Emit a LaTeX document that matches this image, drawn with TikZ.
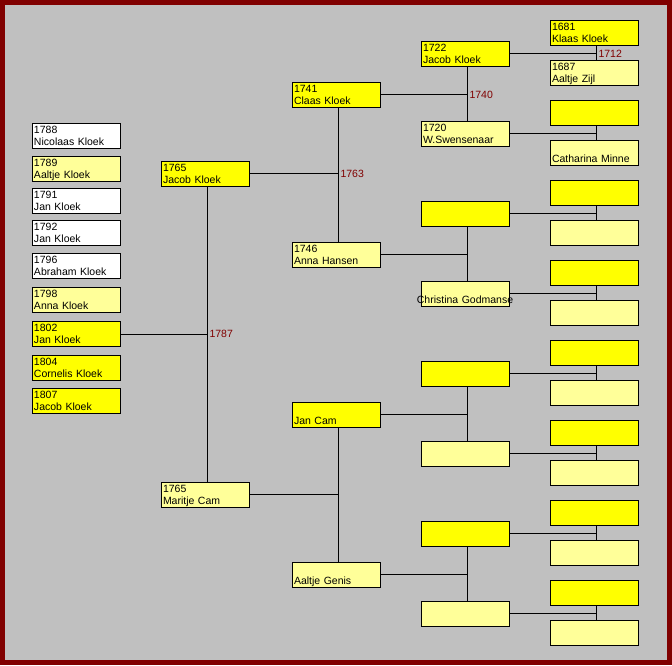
\documentclass[tikz,border=0pt]{standalone}
\usepackage{fontspec}
\setmainfont{Liberation Sans}
\usepackage{tikz}
\usepackage{xcolor}
\definecolor{frame}{RGB}{128,0,0}
\definecolor{panel}{RGB}{192,192,192}
\definecolor{man}{RGB}{255,255,0}
\definecolor{wife}{RGB}{255,255,153}
\newcommand\pp[2]{\rule{0pt}{10pt}#1\\#2\rule[-3pt]{0pt}{3pt}}
\begin{document}
\begin{tikzpicture}[x=1pt,y=-1pt,line width=1pt]%
  \tikzstyle{boxm}=[draw,fill=man,anchor=north west,minimum width=88pt,minimum height=25pt,
    inner xsep=2pt,inner ysep=0pt,text width=84pt,align=left,font=\fontsize{10.5}{12}\selectfont]
  \tikzstyle{boxf}=[boxm,fill=wife]
  \tikzstyle{boxw}=[boxm,fill=white]
  \tikzstyle{yr}=[anchor=west,inner sep=2pt,text=frame,font=\fontsize{10.5}{12}\selectfont]
  \fill[frame] (0,0) rectangle (672,665);
  \fill[panel] (5,5) rectangle (667,660);
  \useasboundingbox (0,0) rectangle (672,665);
  % children
  \node(s1)[boxw] at (31.5,122.5) {\pp{1788}{Nicolaas Kloek}};
  \node(s2)[boxf] at (31.5,155.5) {\pp{1789}{Aaltje Kloek}};
  \node(s3)[boxw] at (31.5,188) {\pp{1791}{Jan Kloek}};
  \node(s4)[boxw] at (31.5,220) {\pp{1792}{Jan Kloek}};
  \node(s5)[boxw] at (31.5,253) {\pp{1796}{Abraham Kloek}};
  \node(s6)[boxf] at (31.5,287) {\pp{1798}{Anna Kloek}};
  \node(1)[boxm] at (31.5,321) {\pp{1802}{Jan Kloek}};
  \node(s7)[boxm] at (31.5,355) {\pp{1804}{Cornelis Kloek}};
  \node(s8)[boxm] at (31.5,387.5) {\pp{1807}{Jacob Kloek}};
  % parents and grandparents
  \node(2)[boxm] at (160.5,160.5) {\pp{1765}{Jacob Kloek}};
  \node(3)[boxf] at (160.5,481.5) {\pp{1765}{Maritje Cam}};
  \node(4)[boxm] at (291.5,81.5) {\pp{1741}{Claas Kloek}};
  \node(5)[boxf] at (291.5,241.5) {\pp{1746}{Anna Hansen}};
  \node(6)[boxm] at (291.5,401.5) {\pp{}{Jan Cam}};
  \node(7)[boxf] at (291.5,561.5) {\pp{}{Aaltje Genis}};
  \node(8)[boxm] at (420.5,40.5) {\pp{1722}{Jacob Kloek}};
  \node(9)[boxf] at (420.5,120.5) {\pp{1720}{W.Swensenaar}};
  \node(10)[boxm] at (420.5,200.5) {};
  \node(11)[boxf] at (420.5,280.5) {\pp{}{\makebox[84pt][c]{Christina Godmanse}}};
  \node(12)[boxm] at (420.5,360.5) {};
  \node(13)[boxf] at (420.5,440.5) {};
  \node(14)[boxm] at (420.5,520.5) {};
  \node(15)[boxf] at (420.5,600.5) {};
  \node(16)[boxm] at (549.5,19.5) {\pp{1681}{Klaas Kloek}};
  \node(17)[boxf] at (549.5,59.5) {\pp{1687}{Aaltje Zijl}};
  \node(18)[boxm] at (549.5,99.5) {};
  \node(19)[boxf] at (549.5,139.5) {\pp{}{Catharina Minne}};
  \foreach \k in {20,22,...,30}{
    \pgfmathtruncatemacro\b{\k+1}
    \node(\k)[boxm] at (549.5,{19.5+40*(\k-16)}) {};
    \node(\b)[boxf] at (549.5,{19.5+40*(\k-15)}) {};
  }
  % couples
  \foreach \k in {1,...,15}{
    \pgfmathtruncatemacro\a{2*\k}
    \pgfmathtruncatemacro\b{2*\k+1}
    \draw ([xshift=2pt]\a.south) -- ([xshift=2pt]\b.north);
    \draw (\k.east) -- ([xshift=2pt]\a.south |- \k.east);
  }
  \node[yr] at ([xshift=2pt]2.south |- 1.east) {1787};
  \node[yr] at ([xshift=2pt]4.south |- 2.east) {1763};
  \node[yr] at ([xshift=2pt]8.south |- 4.east) {1740};
  \node[yr] at ([xshift=2pt]16.south |- 8.east) {1712};
\end{tikzpicture}
\end{document}
